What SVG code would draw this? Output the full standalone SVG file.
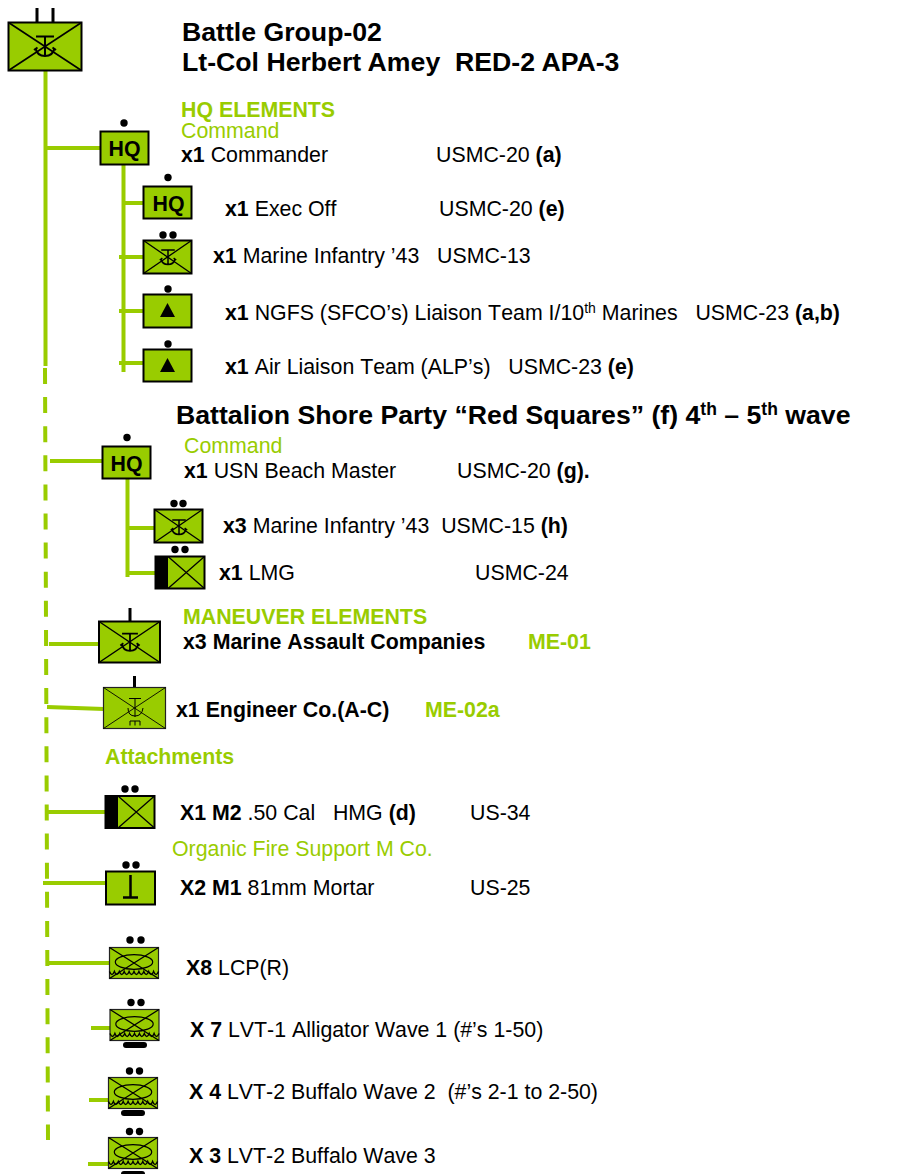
<svg xmlns="http://www.w3.org/2000/svg" width="897" height="1174" viewBox="0 0 897 1174">
<style>
text{font-family:"Liberation Sans",Arial,sans-serif;font-size:21.33px;fill:#000;white-space:pre;font-kerning:none}
.b{font-weight:bold}
.g{fill:#99cc00}
.t{font-size:26.67px;font-weight:bold;font-kerning:normal}
.h{font-size:26.67px;font-weight:bold}
.hq{font-size:21.33px;font-weight:bold;text-anchor:middle}
.f{fill:#99cc00;stroke:#000;stroke-width:2}
.c{stroke:#99cc00;stroke-width:4;fill:none}
.bl{fill:#000}
.x{stroke:#000;stroke-width:1.300;fill:none}
.k{fill:#99cc00;stroke:#222;stroke-width:1.200}
</style>
<defs>
<g id="anchor" fill="none" stroke="#000" stroke-width="2">
<path d="M-9-9.500H9M0-9.500V9.500M-9.500 2Q-8 10 0 10Q8 10 9.500 2M-11 4L-7.500 1.500M11 4L7.500 1.500"/>
</g>
<g id="lv" fill="none" stroke="#000" stroke-width="1.200">
<ellipse cx="0" cy="-3" rx="18.700" ry="7.300"/>
<path d="M-24.500 6.500q2.450 6 4.900 0q2.450 6 4.900 0q2.450 6 4.900 0q2.450 6 4.900 0q2.450 6 4.900 0q2.450 6 4.900 0q2.450 6 4.900 0q2.450 6 4.900 0q2.450 6 4.900 0q2.450 6 4.900 0" stroke-width="1.500"/>
</g>
</defs>

<g id="connectors">
<path class="c" d="M45.500 71V366M47 148H100"/>
<path class="c" d="M45 368L48 1140" stroke-dasharray="16 13.100"/>
<path class="c" d="M123.500 165V372M122 203H143M119 257H143M119 311H143M119 363H143"/>
<path class="c" d="M50 461H102M127.500 479V577M127 528H154M127 573H156"/>
<path class="c" d="M49 644H99M47 707L104 709"/>
<path class="c" d="M46 812H106M43 883H106M47 963H109"/>
<path class="c" d="M91 1028H110M89 1100H108M88 1164H108"/>
</g>

<g id="bg02">
<path d="M37 8V22M53 8V22" stroke="#000" stroke-width="3"/>
<rect class="f" x="8.500" y="22.500" width="73" height="48"/>
<path d="M8.500 22.500L81.500 70.500M81.500 22.500L8.500 70.500" stroke="#000" stroke-width="1.600"/>
<use href="#anchor" x="45" y="46"/>
</g>
<g id="hq1"><circle class="bl" cx="124" cy="123" r="3.700"/><rect class="f" x="100.500" y="131.500" width="48" height="33"/><text class="hq" x="124.500" y="155.500">HQ</text></g>
<g id="hq2"><circle class="bl" cx="168" cy="177.500" r="3.700"/><rect class="f" x="143.500" y="186.500" width="48" height="32"/><text class="hq" x="168.500" y="210.500">HQ</text></g>
<g id="inf1"><circle class="bl" cx="163" cy="235" r="3.700"/><circle class="bl" cx="173" cy="235" r="3.700"/><rect class="f" x="143.500" y="240.500" width="48" height="33"/><path class="x" d="M143.500 240.500L191.500 273.500M191.500 240.500L143.500 273.500"/><use href="#anchor" transform="translate(168 257) scale(.75)"/></g>
<g id="ngfs"><circle class="bl" cx="168" cy="289" r="3.700"/><rect class="f" x="143.500" y="294.500" width="48" height="33"/><path class="bl" d="M160 317L167.500 303L175 317Z"/></g>
<g id="air"><circle class="bl" cx="168" cy="344" r="3.700"/><rect class="f" x="143.500" y="349.500" width="48" height="32"/><path class="bl" d="M160 372L167.500 358L175 372Z"/></g>
<g id="hq3"><circle class="bl" cx="127" cy="437.500" r="3.700"/><rect class="f" x="102.500" y="446.500" width="48" height="32"/><text class="hq" x="126.500" y="470.500">HQ</text></g>
<g id="inf2"><circle class="bl" cx="174" cy="503.500" r="3.700"/><circle class="bl" cx="183" cy="503.500" r="3.700"/><rect class="f" x="154.500" y="509.500" width="48" height="33"/><path class="x" d="M154.500 509.500L202.500 542.500M202.500 509.500L154.500 542.500"/><use href="#anchor" transform="translate(179 527) scale(.75)"/></g>
<g id="lmg"><circle class="bl" cx="175" cy="549.500" r="3.700"/><circle class="bl" cx="185" cy="549.500" r="3.700"/><rect class="f" x="155.500" y="556.500" width="49" height="32"/><rect class="bl" x="155" y="556" width="13" height="33"/><path class="x" d="M168 556.500L204.500 588.500M204.500 556.500L168 588.500"/></g>
<g id="mac"><path d="M130 608V621" stroke="#000" stroke-width="3"/><rect class="f" x="99" y="621.500" width="61" height="41"/><path d="M99 621.500L160 662.500M160 621.500L99 662.500" stroke="#000" stroke-width="1.500"/><use href="#anchor" transform="translate(130 642) scale(.88)"/></g>
<g id="eng"><path d="M134.500 676V688" stroke="#000" stroke-width="3"/><rect class="k" x="103.500" y="687.500" width="62" height="41"/><path d="M103.500 687.500L165.500 728.500M165.500 687.500L103.500 728.500" stroke="#000" stroke-width=".9"/><path d="M129 698.500H141M135 698.500V717M128 708Q128 716 135 716Q142 716 143 708M130 721H140M130 721V725.500M135 721V725.500M140 721V725.500" fill="none" stroke="#000" stroke-width="1"/></g>
<g id="hmg"><circle class="bl" cx="125" cy="789" r="3.700"/><circle class="bl" cx="135" cy="789" r="3.700"/><rect class="f" x="105.500" y="796" width="49" height="32"/><rect class="bl" x="105" y="795" width="13" height="34"/><path class="x" d="M118 796L154.500 828M154.500 796L118 828"/></g>
<g id="mortar"><circle class="bl" cx="126" cy="865" r="3.700"/><circle class="bl" cx="136" cy="865" r="3.700"/><rect class="f" x="106" y="871.500" width="49" height="33"/><path d="M130.500 875V897M123 897.500H138" stroke="#000" stroke-width="2.500" fill="none"/></g>
<g id="lcp"><circle class="bl" cx="130" cy="940" r="3.700"/><circle class="bl" cx="141" cy="940" r="3.700"/><rect class="k" x="109.500" y="947.500" width="49" height="31"/><path class="x" d="M109.500 947.500L158.500 978.500M158.500 947.500L109.500 978.500"/><use href="#lv" x="134" y="965"/></g>
<g id="lvt1"><circle class="bl" cx="131" cy="1002.500" r="3.700"/><circle class="bl" cx="141" cy="1002.500" r="3.700"/><rect class="k" x="110" y="1009.500" width="49" height="31"/><path class="x" d="M110 1009.500L159 1040.500M159 1009.500L110 1040.500"/><use href="#lv" x="134.500" y="1027"/><rect class="bl" x="123" y="1042" width="24" height="6" rx="3"/></g>
<g id="lvt2"><circle class="bl" cx="129.500" cy="1071" r="3.700"/><circle class="bl" cx="139.500" cy="1071" r="3.700"/><rect class="k" x="108.500" y="1077.500" width="49" height="31"/><path class="x" d="M108.500 1077.500L157.500 1108.500M157.500 1077.500L108.500 1108.500"/><use href="#lv" x="133" y="1095"/><rect class="bl" x="121" y="1110" width="24" height="6" rx="3"/></g>
<g id="lvt3"><circle class="bl" cx="129.500" cy="1131.500" r="3.700"/><circle class="bl" cx="139.500" cy="1131.500" r="3.700"/><rect class="k" x="108.500" y="1137.500" width="49" height="31"/><path class="x" d="M108.500 1137.500L157.500 1168.500M157.500 1137.500L108.500 1168.500"/><use href="#lv" x="133" y="1155"/><rect class="bl" x="121" y="1171" width="24" height="6" rx="3"/></g>

<g id="labels">
<text class="t" x="182" y="41">Battle Group-02</text>
<text class="t" x="182" y="71">Lt-Col Herbert Amey  RED-2 APA-3</text>
<text class="b g" x="181" y="117">HQ ELEMENTS</text>
<text class="g" x="181" y="138">Command</text>
<text x="181" y="162"><tspan class="b">x1</tspan> Commander</text>
<text x="436" y="162">USMC-20 <tspan class="b">(a)</tspan></text>
<text x="225" y="216"><tspan class="b">x1</tspan> Exec Off</text>
<text x="439" y="216">USMC-20 <tspan class="b">(e)</tspan></text>
<text x="213" y="263"><tspan class="b">x1</tspan> Marine Infantry ’43   USMC-13</text>
<text x="225" y="320"><tspan class="b">x1</tspan> NGFS (SFCO’s) Liaison Team I/10<tspan font-size="14" dy="-7">th</tspan><tspan dy="7"> Marines   USMC-23 </tspan><tspan class="b">(a,b)</tspan></text>
<text x="225" y="374"><tspan class="b">x1</tspan> Air Liaison Team (ALP’s)   USMC-23 <tspan class="b">(e)</tspan></text>
<text class="h" x="176" y="424">Battalion Shore Party “Red Squares” (f) 4<tspan font-size="17.500" dy="-9">th</tspan><tspan dy="9"> – 5</tspan><tspan font-size="17.500" dy="-9">th</tspan><tspan dy="9"> wave</tspan></text>
<text class="g" x="184" y="453">Command</text>
<text x="184" y="478"><tspan class="b">x1</tspan> USN Beach Master</text>
<text x="457" y="478">USMC-20 <tspan class="b">(g).</tspan></text>
<text x="223" y="533"><tspan class="b">x3</tspan> Marine Infantry ’43  USMC-15 <tspan class="b">(h)</tspan></text>
<text x="219" y="580"><tspan class="b">x1</tspan> LMG</text>
<text x="475" y="580">USMC-24</text>
<text class="b g" x="183" y="624">MANEUVER ELEMENTS</text>
<text class="b" x="183" y="649">x3 Marine Assault Companies</text>
<text class="b g" x="528" y="649">ME-01</text>
<text class="b" x="176" y="717">x1 Engineer Co.(A-C)</text>
<text class="b g" x="425" y="717">ME-02a</text>
<text class="b g" x="105" y="764">Attachments</text>
<text x="180" y="820"><tspan class="b">X1 M2</tspan> .50 Cal   HMG <tspan class="b">(d)</tspan></text>
<text x="470" y="820">US-34</text>
<text class="g" x="172" y="856">Organic Fire Support M Co.</text>
<text x="180" y="895"><tspan class="b">X2 M1</tspan> 81mm Mortar</text>
<text x="470" y="895">US-25</text>
<text x="186" y="975"><tspan class="b">X8</tspan> LCP(R)</text>
<text x="190" y="1037"><tspan class="b">X 7</tspan> LVT-1 Alligator Wave 1 (#’s 1-50)</text>
<text x="189" y="1099"><tspan class="b">X 4</tspan> LVT-2 Buffalo Wave 2  (#’s 2-1 to 2-50)</text>
<text x="189" y="1163"><tspan class="b">X 3</tspan> LVT-2 Buffalo Wave 3</text>
</g>
</svg>
